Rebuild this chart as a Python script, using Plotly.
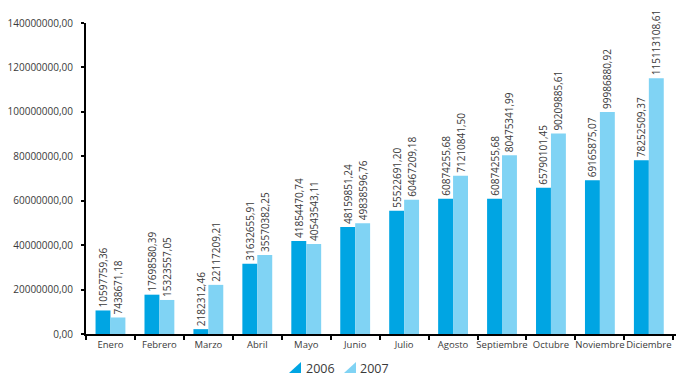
import plotly.graph_objects as go

# Monthly totals, 2006 vs 2007
months = ["Enero", "Febrero", "Marzo", "Abril", "Mayo", "Junio", "Julio",
          "Agosto", "Septiembre", "Octubre", "Noviembre", "Diciembre"]
values_2006 = [10597759.36, 17698580.39, 2182312.46, 31632655.91, 41854470.74,
               48159851.24, 55522691.20, 60874255.68, 60874255.68, 65790101.45,
               69165875.07, 78252509.37]
values_2007 = [7438671.18, 15323557.05, 22117209.21, 35570382.25, 40543543.11,
               49838596.76, 60467209.18, 71210841.50, 80475341.99, 90209885.61,
               99986880.92, 115113108.61]
y_ticks = [0, 20000000, 40000000, 60000000, 80000000, 100000000, 120000000, 140000000]
series_names = ["2006", "2007"]

COLOR_2006 = "#00a5e3"
COLOR_2007 = "#80d3f4"
FONT = "Open Sans"
TEXT = "#3a3a3a"

W, H = 676, 379
ML, MR, MT, MB = 86, 0, 23, 45


def es_num(v):
    return f"{v:.2f}".replace(".", ",")


fig = go.Figure()
for name, vals, col in [(series_names[0], values_2006, COLOR_2006),
                        (series_names[1], values_2007, COLOR_2007)]:
    fig.add_trace(go.Bar(
        x=months, y=vals, name=name, marker_color=col, marker_line_width=0,
        text=[es_num(v) for v in vals], textposition="outside", textangle=-90,
        constraintext="none",
        textfont=dict(family=FONT, size=10, color=TEXT), cliponaxis=False,
    ))

# Legend drawn by hand with right-triangle swatches
pw, ph = W - ML - MR, H - MT - MB


def px_x(p):
    return (p - ML) / pw


def px_y(p):
    return (H - MB - p) / ph


shapes = []
annotations = []
for (x0, x1, tx), name, col in zip([(289, 301, 304), (344, 356, 358)], series_names,
                                   [COLOR_2006, COLOR_2007]):
    y0, y1 = 373, 362
    path = (f"M {px_x(x0)} {px_y(y0)} L {px_x(x1)} {px_y(y0)} "
            f"L {px_x(x1)} {px_y(y1)} Z")
    shapes.append(dict(type="path", xref="paper", yref="paper", path=path,
                       fillcolor=col, line=dict(width=0)))
    annotations.append(dict(xref="paper", yref="paper", x=px_x(tx), y=px_y(368),
                            xanchor="left", yanchor="middle", text=name,
                            showarrow=False,
                            font=dict(family=FONT, size=12.5, color=TEXT)))

fig.update_layout(
    width=W, height=H,
    margin=dict(l=ML, r=MR, t=MT, b=MB, pad=0),
    paper_bgcolor="white", plot_bgcolor="white",
    barmode="group", bargap=0.39, bargroupgap=0,
    showlegend=False,
    shapes=shapes, annotations=annotations,
    font=dict(family=FONT, size=10, color=TEXT),
    xaxis=dict(
        type="category", range=[-0.5, 11.555], showgrid=False,
        showline=True, linecolor="black", linewidth=2,
        ticks="outside", tickson="boundaries", ticklen=4, tickwidth=2,
        tickcolor="black", tickangle=0, ticklabelstandoff=1,
        tickfont=dict(family=FONT, size=9.5, color=TEXT),
    ),
    yaxis=dict(
        range=[0, 140000000], tickvals=y_ticks,
        ticktext=[es_num(v) for v in y_ticks], showgrid=False, zeroline=False,
        showline=True, linecolor="black", linewidth=2,
        ticks="outside", ticklen=3, tickwidth=2, tickcolor="black",
        ticklabelstandoff=6,
        tickfont=dict(family=FONT, size=10, color=TEXT),
    ),
)

fig.write_html("out.html")
